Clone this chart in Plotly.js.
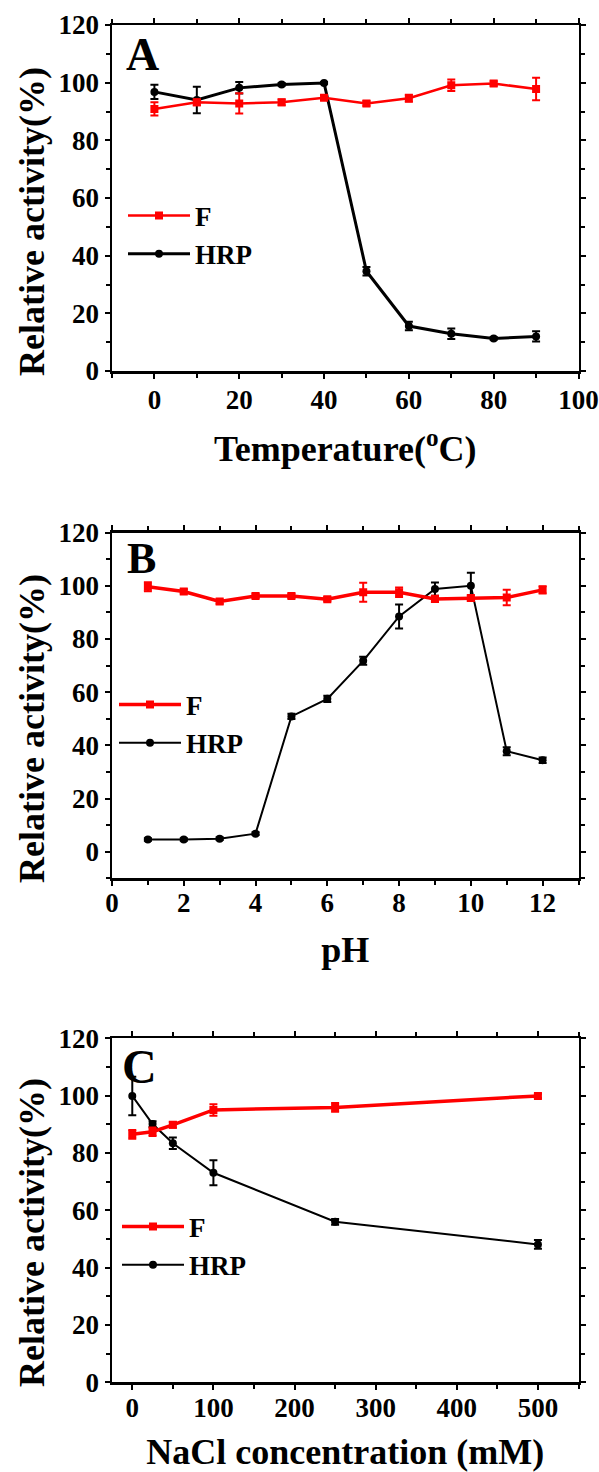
<!DOCTYPE html>
<html>
<head>
<meta charset="utf-8">
<script src="https://cdn.plot.ly/plotly-3.0.1.min.js"></script>
<style>
html,body{margin:0;padding:0;background:#fff;}
#chart{width:599px;height:1472px;}
</style>
</head>
<body>
<div id="chart"></div>
<script>
// ---- Panel A: temperature ----
const tempX = [0, 10, 20, 30, 40, 50, 60, 70, 80, 90];
const tempF = [90.9, 93.2, 92.8, 93.2, 94.8, 92.8, 94.6, 99.1, 99.7, 97.8];
const tempFErr = [2.3, 1.0, 3.5, 1.0, 0.8, 0.8, 1.2, 2.0, 0.8, 3.9];
const tempHRP = [96.8, 94.0, 98.2, 99.4, 99.9, 34.6, 15.6, 12.9, 11.3, 12.0];
const tempHRPErr = [2.5, 4.6, 2.0, 0.5, 0.3, 1.5, 1.5, 1.8, 0.5, 1.8];
const tempTicks = [0, 20, 40, 60, 80, 100];

// ---- Panel B: pH ----
const phX = [1, 2, 3, 4, 5, 6, 7, 8, 9, 10, 11, 12];
const phF = [99.7, 97.9, 94.1, 96.2, 96.2, 95.0, 97.6, 97.6, 95.1, 95.4, 95.6, 98.5];
const phFErr = [1.7, 0.8, 0.8, 0.8, 0.8, 0.8, 3.6, 1.8, 1.2, 1.0, 2.9, 1.4];
const phHRP = [4.6, 4.6, 4.9, 6.8, 50.9, 57.5, 71.8, 88.5, 98.8, 100.0, 37.8, 34.4];
const phHRPErr = [0.5, 0.5, 0.5, 0.5, 1.0, 1.2, 1.5, 4.5, 2.5, 4.9, 1.5, 1.0];
const phTicks = [0, 2, 4, 6, 8, 10, 12];

// ---- Panel C: NaCl ----
const naclX = [0, 25, 50, 100, 250, 500];
const naclF = [86.5, 87.4, 89.8, 95.0, 95.9, 99.9];
const naclFErr = [1.5, 1.5, 1.0, 2.0, 1.5, 0.8];
const naclHRP = [99.9, 90.1, 83.4, 73.1, 56.0, 48.1];
const naclHRPErr = [6.7, 1.0, 2.0, 4.4, 1.0, 1.5];
const naclTicks = [0, 100, 200, 300, 400, 500];

const yTicks = [0, 20, 40, 60, 80, 100, 120];
const seriesNames = ['F', 'HRP'];
const panelLetters = ['A', 'B', 'C'];
const xTitles = ['Temperature(<sup>o</sup>C)', 'pH', 'NaCl concentration (mM)'];
const yTitle = 'Relative activity(%)';

const RED = '#ff0000';
const BLACK = '#000000';
const FAM = 'Liberation Serif';
const W = 599, H = 1472;

function px(x) { return x / W; }
function py(y) { return 1 - y / H; }

function makeTraces(xs, f, fe, h, he, idx, lwF, lwH) {
  const sfx = idx === 0 ? '' : String(idx + 1);
  const leg = idx === 0 ? 'legend' : 'legend' + (idx + 1);
  const hrp = {
    x: xs, y: h, name: seriesNames[1], type: 'scatter', mode: 'lines+markers',
    xaxis: 'x' + sfx, yaxis: 'y' + sfx, legend: leg, legendrank: 2,
    line: {color: BLACK, width: lwH},
    marker: {symbol: 'circle', size: 8, color: BLACK},
    error_y: {type: 'data', array: he, visible: true, color: BLACK, thickness: 2, width: 4}
  };
  const fr = {
    x: xs, y: f, name: seriesNames[0], type: 'scatter', mode: 'lines+markers',
    xaxis: 'x' + sfx, yaxis: 'y' + sfx, legend: leg, legendrank: 1,
    line: {color: RED, width: lwF},
    marker: {symbol: 'square', size: 8, color: RED},
    error_y: {type: 'data', array: fe, visible: true, color: RED, thickness: 2, width: 4}
  };
  return [hrp, fr];
}

const data = [].concat(
  makeTraces(tempX, tempF, tempFErr, tempHRP, tempHRPErr, 0, 2.5, 3),
  makeTraces(phX, phF, phFErr, phHRP, phHRPErr, 1, 3.5, 2),
  makeTraces(naclX, naclF, naclFErr, naclHRP, naclHRPErr, 2, 3.5, 2)
);

const tickFont = {family: FAM, size: 27, color: BLACK, weight: 'bold'};
const titleFont = {family: FAM, size: 36, color: BLACK, weight: 'bold'};

function xAxis(range, ticks, minorDt, title, yAnchor, dom, tls, so) {
  return {
    domain: dom, range: range, anchor: yAnchor,
    tickmode: 'array', tickvals: ticks, ticktext: ticks.map(String),
    ticks: 'outside', ticklen: 5, tickwidth: 2, tickcolor: BLACK,
    ticklabelstandoff: tls,
    minor: {dtick: minorDt, tick0: 0, ticks: 'outside', ticklen: 4, tickwidth: 2, tickcolor: BLACK, showgrid: false},
    showline: true, linecolor: BLACK, linewidth: 2.5, mirror: 'ticks',
    showgrid: false, zeroline: false, tickfont: tickFont,
    title: {text: title, font: titleFont, standoff: so}
  };
}
function yAxis(range, xAnchor, dom) {
  return {
    domain: dom, range: range, anchor: xAnchor,
    tickmode: 'array', tickvals: yTicks, ticktext: yTicks.map(String),
    ticks: 'outside', ticklen: 5, tickwidth: 2, tickcolor: BLACK,
    minor: {dtick: 10, tick0: 0, ticks: 'outside', ticklen: 4, tickwidth: 2, tickcolor: BLACK, showgrid: false},
    showline: true, linecolor: BLACK, linewidth: 2.5, mirror: 'ticks',
    showgrid: false, zeroline: false, tickfont: tickFont
  };
}

const xDom = [px(112), px(578.5)];
const domA = [py(371), py(25)];
const domB = [py(878.3), py(532.7)];
const domC = [py(1382.3), py(1038.3)];

const legendFont = {family: FAM, size: 27, color: BLACK, weight: 'bold'};
function legendAt(xp, ymid) {
  return {x: px(xp), y: py(ymid), xanchor: 'left', yanchor: 'middle',
          bgcolor: 'rgba(0,0,0,0)', borderwidth: 0, font: legendFont,
          traceorder: 'normal', itemwidth: 62, tracegroupgap: 0};
}

function yTitleAnn(ycenter) {
  return {text: yTitle, xref: 'paper', yref: 'paper', x: px(32), y: py(ycenter),
          xanchor: 'center', yanchor: 'middle', textangle: -90, showarrow: false, font: titleFont};
}
function letterAnn(i, xc, yc, size) {
  return {text: panelLetters[i], xref: 'paper', yref: 'paper', x: px(xc), y: py(yc),
          xanchor: 'center', yanchor: 'middle', showarrow: false,
          font: {family: FAM, size: size, color: BLACK, weight: 'bold'}};
}

const layout = {
  width: W, height: H,
  margin: {l: 0, r: 0, t: 0, b: 0},
  paper_bgcolor: '#fff', plot_bgcolor: '#fff',
  showlegend: true,
  font: {family: FAM, color: BLACK},
  xaxis: xAxis([-10, 100], tempTicks, 10, xTitles[0], 'y', xDom, -2, 22),
  yaxis: yAxis([0, 120], 'x', domA),
  xaxis2: xAxis([0, 13], phTicks, 1, xTitles[1], 'y2', xDom, -6, 20),
  yaxis2: yAxis([-10, 120], 'x2', domB),
  xaxis3: xAxis([-25, 550], naclTicks, 50, xTitles[2], 'y3', xDom, -5, 28),
  yaxis3: yAxis([0, 120], 'x3', domC),
  legend: legendAt(123, 235),
  legend2: legendAt(114, 724),
  legend3: legendAt(117, 1246),
  annotations: [
    yTitleAnn(222), yTitleAnn(729), yTitleAnn(1233),
    letterAnn(0, 142, 54, 46),
    letterAnn(1, 141, 558, 44),
    letterAnn(2, 139, 1066, 48)
  ]
};

Plotly.newPlot('chart', data, layout, {displayModeBar: false, staticPlot: true});
</script>
</body>
</html>
